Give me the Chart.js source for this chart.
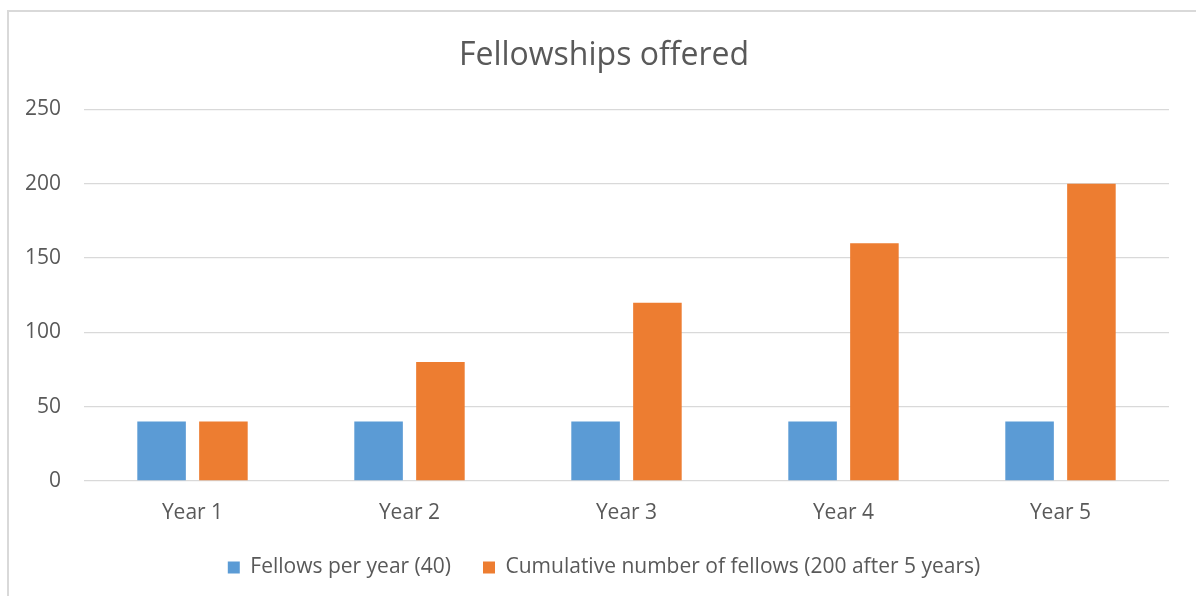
<!DOCTYPE html>
<html>
<head>
<meta charset="utf-8">
<script src="https://cdn.jsdelivr.net/npm/chart.js@4.4.1/dist/chart.umd.min.js"></script>
<style>
  html, body { margin: 0; padding: 0; background: #ffffff; overflow: hidden; width: 1196px; height: 596px; }
  #frame { position: absolute; left: 7px; top: 10px; width: 1300px; height: 800px; border: 2px solid #d9d9d9; box-sizing: border-box; }
  #wrap { position: absolute; left: 0; top: 0; width: 1196px; height: 596px; }
</style>
</head>
<body>
<div id="frame"></div>
<div id="wrap"><canvas id="c" width="1196" height="596"></canvas></div>
<script>
const chartTitle = "Fellowships offered";
const categories = ["Year 1", "Year 2", "Year 3", "Year 4", "Year 5"];
const seriesNames = ["Fellows per year (40)", "Cumulative number of fellows (200 after 5 years)"];
const fellowsPerYear = [40, 40, 40, 40, 40];
const cumulativeFellows = [40, 80, 120, 160, 200];
const yTicks = [0, 50, 100, 150, 200, 250];

const textColor = "#595959";
const gridColor = "#d9d9d9";
const fontFamily = "'Open Sans', 'Noto Sans', sans-serif";

new Chart(document.getElementById("c"), {
  type: "bar",
  data: {
    labels: categories,
    datasets: [
      { label: seriesNames[0], data: fellowsPerYear, backgroundColor: "#5B9BD5", borderWidth: 0 },
      { label: seriesNames[1], data: cumulativeFellows, backgroundColor: "#ED7D31", borderWidth: 0 }
    ]
  },
  options: {
    responsive: false,
    animation: false,
    devicePixelRatio: 1,
    datasets: { bar: { categoryPercentage: 0.57, barPercentage: 0.785 } },
    layout: { padding: { left: 39, right: 27, top: 0, bottom: 8 } },
    plugins: {
      title: {
        display: true,
        text: chartTitle,
        color: textColor,
        font: { family: fontFamily, size: 32, weight: "normal", lineHeight: 1.2 },
        padding: { top: 37, bottom: 34 }
      },
      legend: {
        display: true,
        position: "bottom",
        labels: {
          color: textColor,
          font: { family: fontFamily, size: 21 },
          boxWidth: 12,
          boxHeight: 12,
          padding: 32
        }
      },
      tooltip: { enabled: false }
    },
    scales: {
      x: {
        grid: { display: false, drawTicks: false },
        border: { display: false },
        ticks: { color: textColor, font: { family: fontFamily, size: 21 }, padding: 19 },
        afterFit: (scale) => { scale.height = 44; }
      },
      y: {
        min: yTicks[0],
        max: yTicks[yTicks.length - 1],
        grid: { color: gridColor, lineWidth: 1.3, drawTicks: false },
        border: { display: false },
        afterBuildTicks: (scale) => { scale.ticks = yTicks.map(v => ({ value: v })); },
        ticks: { color: textColor, font: { family: fontFamily, size: 21 }, mirror: true, crossAlign: "far", padding: -59 },
        afterFit: (scale) => { scale.width = 45; }
      }
    }
  }
});
</script>
</body>
</html>
